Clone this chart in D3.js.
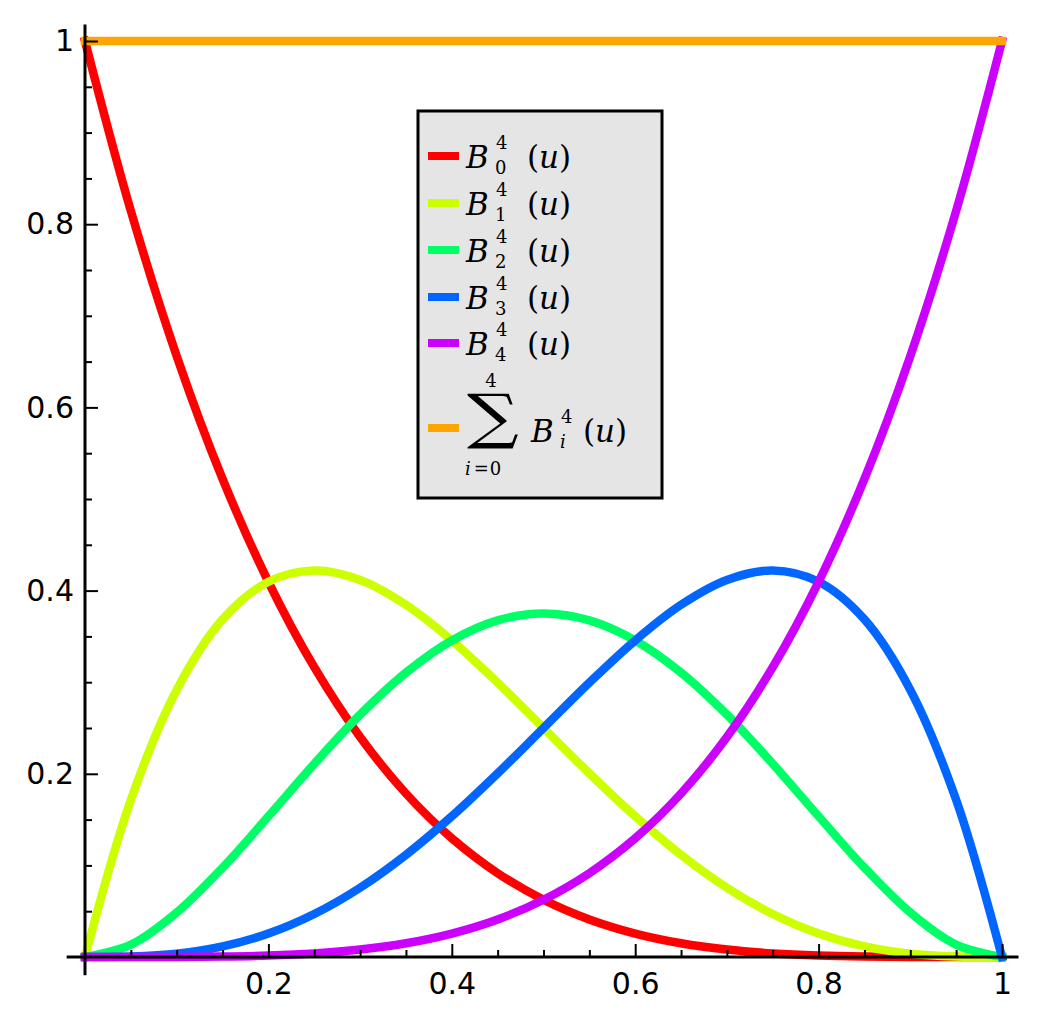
<!DOCTYPE html>
<html>
<head>
<meta charset="utf-8">
<script src="https://cdn.jsdelivr.net/npm/d3@7"></script>
<style>
  html, body { margin: 0; padding: 0; background: #ffffff; }
  svg { display: block; }
</style>
</head>
<body>
<svg id="chart" width="1040" height="1024"></svg>
<script>
// ---------------- DATA ----------------
const uValues = [0, 0.05, 0.1, 0.15, 0.2, 0.25, 0.3, 0.35, 0.4, 0.45, 0.5,
                 0.55, 0.6, 0.65, 0.7, 0.75, 0.8, 0.85, 0.9, 0.95, 1];
const B0 = [1, 0.8145, 0.6561, 0.5220, 0.4096, 0.3164, 0.2401, 0.1785, 0.1296, 0.0915, 0.0625,
            0.0410, 0.0256, 0.0150, 0.0081, 0.0039, 0.0016, 0.0005, 0.0001, 0.0000, 0];
const B1 = [0, 0.1715, 0.2916, 0.3685, 0.4096, 0.4219, 0.4116, 0.3845, 0.3456, 0.2995, 0.2500,
            0.2005, 0.1536, 0.1115, 0.0756, 0.0469, 0.0256, 0.0115, 0.0036, 0.0005, 0];
const B2 = [0, 0.0135, 0.0486, 0.0975, 0.1536, 0.2109, 0.2646, 0.3105, 0.3456, 0.3675, 0.3750,
            0.3675, 0.3456, 0.3105, 0.2646, 0.2109, 0.1536, 0.0975, 0.0486, 0.0135, 0];
const B3 = [0, 0.0005, 0.0036, 0.0115, 0.0256, 0.0469, 0.0756, 0.1115, 0.1536, 0.2005, 0.2500,
            0.2995, 0.3456, 0.3845, 0.4116, 0.4219, 0.4096, 0.3685, 0.2916, 0.1715, 0];
const B4 = [0, 0.0000, 0.0001, 0.0005, 0.0016, 0.0039, 0.0081, 0.0150, 0.0256, 0.0410, 0.0625,
            0.0915, 0.1296, 0.1785, 0.2401, 0.3164, 0.4096, 0.5220, 0.6561, 0.8145, 1];
const SUM = [1, 1, 1, 1, 1, 1, 1, 1, 1, 1, 1, 1, 1, 1, 1, 1, 1, 1, 1, 1, 1];

const seriesValues = [B0, B1, B2, B3, B4, SUM];
const seriesSubs = ["0", "1", "2", "3", "4", "i"];
const seriesColors = ["#ff0000", "#ccff00", "#00ff66", "#0066ff", "#cc00ff", "#ffa500"];

const xTickValues = [0.2, 0.4, 0.6, 0.8, 1];
const xTickLabels = ["0.2", "0.4", "0.6", "0.8", "1"];
const yTickValues = [0.2, 0.4, 0.6, 0.8, 1];
const yTickLabels = ["0.2", "0.4", "0.6", "0.8", "1"];
const minorTickValues = [0.05, 0.1, 0.15, 0.25, 0.3, 0.35, 0.45, 0.5, 0.55,
                         0.65, 0.7, 0.75, 0.85, 0.9, 0.95];
const axisExtent = [-0.02, 1.018];

// ---------------- DRAWING ----------------
const svg = d3.select("#chart");
svg.append("rect").attr("width", 1040).attr("height", 1024).attr("fill", "#ffffff");

const x = d3.scaleLinear().domain([0, 1]).range([85, 1002]);
const y = d3.scaleLinear().domain([0, 1]).range([957, 41]);

// curves
const line = d3.line()
  .x((d, i) => x(uValues[i]))
  .y(d => y(d))
  .curve(d3.curveCatmullRom.alpha(0.5));

svg.append("g").selectAll("path")
  .data(seriesValues)
  .join("path")
  .attr("d", d => line(d))
  .attr("fill", "none")
  .attr("stroke", (d, i) => seriesColors[i])
  .attr("stroke-width", 8.5)
  .attr("stroke-linecap", "square")
  .attr("stroke-linejoin", "round");

// axes
const fontAxis = "'DejaVu Sans', sans-serif";

function styleAxis(g) {
  g.select(".domain").remove();
  g.selectAll(".tick line").attr("stroke", "#000").attr("stroke-width", 2);
  g.selectAll(".tick text").attr("fill", "#000")
    .attr("font-family", fontAxis).attr("font-size", 30);
}

// x axis: major + minor
const gx = svg.append("g").attr("transform", `translate(0,${y(0)})`);
gx.call(d3.axisBottom(x).tickValues(xTickValues)
  .tickFormat((d, i) => xTickLabels[i]).tickSizeInner(-13).tickSizeOuter(0).tickPadding(16))
  .call(styleAxis);
const gxm = svg.append("g").attr("transform", `translate(0,${y(0)})`);
gxm.call(d3.axisBottom(x).tickValues(minorTickValues).tickFormat("")
  .tickSizeInner(-7).tickSizeOuter(0))
  .call(styleAxis);

// y axis: major + minor
const gy = svg.append("g").attr("transform", `translate(${x(0)},0)`);
gy.call(d3.axisLeft(y).tickValues(yTickValues)
  .tickFormat((d, i) => yTickLabels[i]).tickSizeInner(-13).tickSizeOuter(0).tickPadding(11))
  .call(styleAxis);
const gym = svg.append("g").attr("transform", `translate(${x(0)},0)`);
gym.call(d3.axisLeft(y).tickValues(minorTickValues).tickFormat("")
  .tickSizeInner(-7).tickSizeOuter(0))
  .call(styleAxis);

// axis lines (extend slightly past the data range)
svg.append("line")
  .attr("x1", x(axisExtent[0])).attr("x2", x(axisExtent[1]))
  .attr("y1", y(0)).attr("y2", y(0))
  .attr("stroke", "#000").attr("stroke-width", 3);
svg.append("line")
  .attr("x1", x(0)).attr("x2", x(0))
  .attr("y1", y(axisExtent[0])).attr("y2", y(axisExtent[1]))
  .attr("stroke", "#000").attr("stroke-width", 3);

// ---------------- LEGEND ----------------
const serif = "'DejaVu Serif', 'Liberation Serif', serif";
const legend = svg.append("g");
legend.append("rect")
  .attr("x", 418).attr("y", 111).attr("width", 244).attr("height", 387)
  .attr("fill", "#e5e5e5").attr("stroke", "#000").attr("stroke-width", 3);

const rowCenters = [156, 203, 250, 297, 343, 428];
const mainSize = 31, scriptSize = 18;

function addB(xb, base, sub, subItalic) {
  legend.append("text").attr("x", xb).attr("y", base)
    .attr("font-family", serif).attr("font-style", "italic").attr("font-size", mainSize)
    .text("B");
  legend.append("text").attr("x", xb + 30).attr("y", base - 19)
    .attr("font-family", serif).attr("font-size", scriptSize).text("4");
  legend.append("text").attr("x", xb + 29).attr("y", base + 6)
    .attr("font-family", serif).attr("font-style", subItalic ? "italic" : "normal")
    .attr("font-size", scriptSize).text(sub);
}
function addArg(xa, base) {
  const t = legend.append("text").attr("x", xa).attr("y", base)
    .attr("font-family", serif).attr("font-size", mainSize);
  t.append("tspan").text("(");
  t.append("tspan").attr("font-style", "italic").text("u");
  t.append("tspan").text(")");
}

seriesValues.forEach((vals, i) => {
  const cy = rowCenters[i];
  legend.append("line")
    .attr("x1", 432).attr("x2", 455).attr("y1", cy).attr("y2", cy)
    .attr("stroke", seriesColors[i]).attr("stroke-width", 8)
    .attr("stroke-linecap", "square");

  const base = cy + 12;
  if (i < 5) {
    addB(466, base, seriesSubs[i], false);
    addArg(527, base);
  } else {
    // summation sign, sized to its glyph box via canvas metrics
    const sigFont = 60;
    const ctx = document.createElement("canvas").getContext("2d");
    ctx.font = `${sigFont}px 'DejaVu Serif'`;
    const m = ctx.measureText("\u2211");
    const gw = m.actualBoundingBoxLeft + m.actualBoundingBoxRight;
    const gh = m.actualBoundingBoxAscent + m.actualBoundingBoxDescent;
    const tx = 467, ty = 393, tw = 52, th = 56;
    const sx = tw / gw, sy = th / gh;
    legend.append("text").attr("x", 0).attr("y", 0)
      .attr("font-family", "'DejaVu Serif', serif").attr("font-size", sigFont)
      .attr("transform",
        `translate(${tx + m.actualBoundingBoxLeft * sx},${ty + m.actualBoundingBoxAscent * sy}) scale(${sx},${sy})`)
      .text("\u2211");
    // limits
    legend.append("text").attr("x", 491).attr("y", 387)
      .attr("text-anchor", "middle")
      .attr("font-family", serif).attr("font-size", scriptSize).text("4");
    const low = legend.append("text").attr("x", 465).attr("y", 475)
      .attr("font-family", serif).attr("font-size", scriptSize);
    low.append("tspan").attr("font-style", "italic").text("i");
    low.append("tspan").attr("dx", 3).text("=");
    low.append("tspan").attr("dx", 1).text("0");
    // B_i^4 (u)
    addB(531, base + 2, seriesSubs[i], true);
    addArg(583, base + 2);
  }
});
</script>
</body>
</html>
